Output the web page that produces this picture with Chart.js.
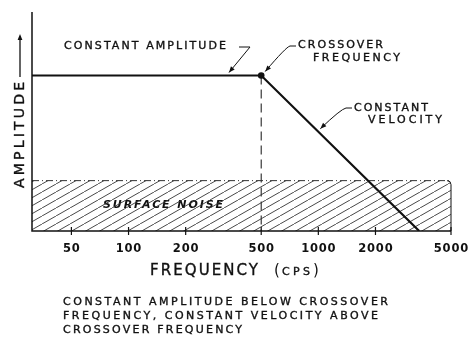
<!DOCTYPE html>
<html>
<head>
<meta charset="utf-8">
<script src="https://cdn.jsdelivr.net/npm/chart.js@4.4.1/dist/chart.umd.min.js"></script>
<style>
  html, body { margin: 0; padding: 0; background: #fff; }
</style>
</head>
<body>
<canvas id="myChart" width="470" height="340"></canvas>
<script>
// frequency axis (cps) and its labelled ticks
const freqTicks = [50, 100, 200, 500, 1000, 2000, 5000];
const freqMin = 31;
const freqMax = 5000;

// recording characteristic: flat amplitude up to crossover, then falling
const responseFreq = [31, 500, 3400];
const responseAmp = [71, 71, 0];

// surface noise band
const noiseFreq = [31, 5000];
const noiseAmp = [23, 23];

const crossoverFreq = 500;
const velocityMarkFreq = 1000;

const caption = [
  'CONSTANT AMPLITUDE BELOW CROSSOVER',
  'FREQUENCY, CONSTANT VELOCITY ABOVE',
  'CROSSOVER FREQUENCY'
];

const INK = '#111';
const FONT = '"DejaVu Sans", sans-serif';

function hatchPattern() {
  const c = document.createElement('canvas');
  c.width = 14;
  c.height = 8;
  const g = c.getContext('2d');
  g.strokeStyle = '#333';
  g.lineWidth = 0.9;
  g.beginPath();
  for (const dx of [-14, 0, 14]) {
    g.moveTo(dx, 8);
    g.lineTo(dx + 14, 0);
  }
  g.stroke();
  return g.createPattern(c, 'repeat');
}

// amplitude of the response line at a given frequency (straight on log axis)
function ampAt(f) {
  for (let i = 0; i < responseFreq.length - 1; i++) {
    const f0 = responseFreq[i], f1 = responseFreq[i + 1];
    if (f >= f0 && f <= f1) {
      const t = Math.log(f / f0) / Math.log(f1 / f0);
      return responseAmp[i] + t * (responseAmp[i + 1] - responseAmp[i]);
    }
  }
  return 0;
}

// draw lettering spread out to a given width, with a hairline stroke for weight
function spreadText(ctx, text, x, y, width, font, weight = 0.35) {
  ctx.font = font;
  ctx.letterSpacing = '0px';
  const w = ctx.measureText(text).width;
  const ls = text.length > 1 ? (width - w) / (text.length - 1) : 0;
  ctx.letterSpacing = ls + 'px';
  ctx.fillText(text, x, y);
  if (weight > 0) {
    ctx.save();
    ctx.lineWidth = weight;
    ctx.strokeStyle = ctx.fillStyle;
    ctx.strokeText(text, x, y);
    ctx.restore();
  }
  ctx.letterSpacing = '0px';
}

function arrowHead(ctx, fromX, fromY, toX, toY) {
  const a = Math.atan2(toY - fromY, toX - fromX);
  const len = 6, half = 2.4;
  ctx.beginPath();
  ctx.moveTo(toX, toY);
  ctx.lineTo(toX - len * Math.cos(a) + half * Math.sin(a), toY - len * Math.sin(a) - half * Math.cos(a));
  ctx.lineTo(toX - len * Math.cos(a) - half * Math.sin(a), toY - len * Math.sin(a) + half * Math.cos(a));
  ctx.closePath();
  ctx.fill();
}

const frame = {
  id: 'frame',
  beforeDatasetsDraw(chart) {
    const { ctx, chartArea: a, scales: { x, y } } = chart;
    ctx.save();
    ctx.strokeStyle = INK;

    // crossover drop line
    const cx = x.getPixelForValue(crossoverFreq);
    ctx.lineWidth = 1;
    ctx.setLineDash([9, 5]);
    ctx.beginPath();
    ctx.moveTo(cx, y.getPixelForValue(ampAt(crossoverFreq)));
    ctx.lineTo(cx, a.bottom);
    ctx.stroke();
    ctx.setLineDash([]);

    // right edge of the noise band
    const ny = y.getPixelForValue(noiseAmp[1]);
    ctx.lineWidth = 1;
    ctx.beginPath();
    ctx.moveTo(a.right - 4, ny);
    ctx.quadraticCurveTo(a.right, ny, a.right, ny + 4);
    ctx.lineTo(a.right, a.bottom);
    ctx.stroke();

    // label inside the band
    ctx.fillStyle = '#fff';
    ctx.fillRect(100, 198, 128, 14);
    ctx.fillStyle = INK;
    ctx.textBaseline = 'middle';
    ctx.textAlign = 'left';
    spreadText(ctx, 'SURFACE NOISE', 103, 205, 120, 'italic bold 11px ' + FONT, 0);
    ctx.restore();
  },
  afterDraw(chart) {
    const { ctx, chartArea: a, scales: { x, y } } = chart;
    ctx.save();
    ctx.strokeStyle = INK;
    ctx.fillStyle = INK;

    // axes
    ctx.lineWidth = 1.5;
    ctx.beginPath();
    ctx.moveTo(a.left, a.top);
    ctx.lineTo(a.left, a.bottom);
    ctx.lineTo(a.right, a.bottom);
    ctx.stroke();

    // cross ticks and labels
    ctx.lineWidth = 1.2;
    ctx.textAlign = 'center';
    ctx.textBaseline = 'middle';
    ctx.font = 'bold 11.5px ' + FONT;
    ctx.letterSpacing = '0.8px';
    for (const f of freqTicks) {
      const px = x.getPixelForValue(f);
      ctx.beginPath();
      ctx.moveTo(px, a.bottom - 4);
      ctx.lineTo(px, a.bottom + 4);
      ctx.stroke();
      ctx.fillText(String(f), px + 0.4, a.bottom + 18);
    }
    ctx.letterSpacing = '0px';

    // annotations
    ctx.textAlign = 'left';
    const small = '11px ' + FONT;
    spreadText(ctx, 'CONSTANT AMPLITUDE', 64, 46, 162, small);
    spreadText(ctx, 'CROSSOVER', 298, 45, 85, small);
    spreadText(ctx, 'FREQUENCY', 313, 58, 87, small);
    spreadText(ctx, 'CONSTANT', 354, 108, 74, small);
    spreadText(ctx, 'VELOCITY', 368, 120, 74, small);

    const cx = x.getPixelForValue(crossoverFreq);
    const cy = y.getPixelForValue(ampAt(crossoverFreq));
    const vx = x.getPixelForValue(velocityMarkFreq);
    const vy = y.getPixelForValue(ampAt(velocityMarkFreq));
    ctx.lineWidth = 1;

    // constant amplitude leader
    ctx.beginPath();
    ctx.moveTo(239, 47);
    ctx.lineTo(250, 47);
    ctx.lineTo(229, cy - 3);
    ctx.stroke();
    arrowHead(ctx, 250, 47, 229, cy - 3);

    // crossover leader
    ctx.beginPath();
    ctx.moveTo(296, 46);
    ctx.lineTo(290, 46);
    ctx.quadraticCurveTo(286, 47, cx + 4, cy - 4);
    ctx.stroke();
    arrowHead(ctx, 284, 50, cx + 4, cy - 4);

    // constant velocity leader
    ctx.beginPath();
    ctx.moveTo(352, 108);
    ctx.lineTo(346, 108);
    ctx.quadraticCurveTo(341, 109, vx + 2, vy - 3);
    ctx.stroke();
    arrowHead(ctx, 338, 112, vx + 2, vy - 3);

    // y title with arrow
    ctx.save();
    ctx.translate(20, 188);
    ctx.rotate(-Math.PI / 2);
    ctx.textBaseline = 'middle';
    spreadText(ctx, 'AMPLITUDE', 0, 0, 106, '14px ' + FONT);
    ctx.lineWidth = 1.3;
    ctx.beginPath();
    ctx.moveTo(111, 0);
    ctx.lineTo(148, 0);
    ctx.stroke();
    arrowHead(ctx, 111, 0, 154, 0);
    ctx.restore();

    // x title
    spreadText(ctx, 'FREQUENCY', 150, 271, 108, '15px ' + FONT);
    ctx.font = '15px ' + FONT;
    ctx.fillText('(', 274, 271);
    spreadText(ctx, 'CPS', 282, 272, 28, '11px ' + FONT);
    ctx.font = '15px ' + FONT;
    ctx.fillText(')', 313, 271);

    // caption
    const capW = [325, 315, 179];
    caption.forEach((line, i) => {
      spreadText(ctx, line, 63, 302 + i * 14, capW[i], '11px ' + FONT);
    });
    ctx.restore();
  }
};

new Chart(
  document.getElementById('myChart'),
  {
    type: 'line',
    data: {
      datasets: [
        {
          label: 'Surface noise',
          data: noiseFreq.map((f, i) => ({ x: f, y: noiseAmp[i] })),
          borderColor: '#333',
          borderWidth: 1,
          borderDash: [7, 3, 1, 3],
          backgroundColor: hatchPattern(),
          fill: 'origin',
          pointRadius: 0,
          order: 2
        },
        {
          label: 'Recording characteristic',
          data: responseFreq.map((f, i) => ({ x: f, y: responseAmp[i] })),
          borderColor: INK,
          borderWidth: 2.2,
          pointRadius: responseFreq.map(f => f === crossoverFreq ? 3.3 : 0),
          pointBackgroundColor: INK,
          pointBorderWidth: 0,
          fill: false,
          tension: 0,
          order: 1
        }
      ]
    },
    options: {
      responsive: false,
      animation: false,
      layout: {
        padding: { left: 32, top: 12, right: 19, bottom: 109 }
      },
      plugins: {
        legend: { display: false },
        tooltip: { enabled: false }
      },
      scales: {
        x: {
          type: 'logarithmic',
          min: freqMin,
          max: freqMax,
          display: false
        },
        y: {
          type: 'linear',
          min: 0,
          max: 100,
          display: false
        }
      }
    },
    plugins: [frame]
  }
)
</script>
</body>
</html>
